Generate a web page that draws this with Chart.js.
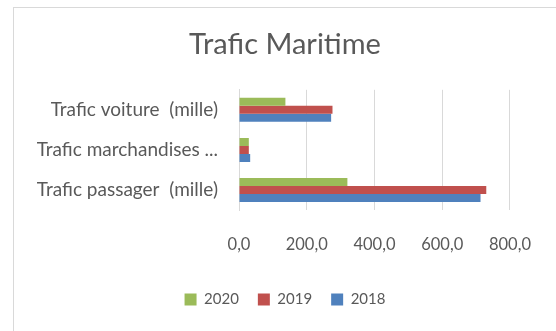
<!DOCTYPE html>
<html>
<head>
<meta charset="utf-8">
<script src="https://cdn.jsdelivr.net/npm/chart.js@4"></script>
<style>
  html, body { margin: 0; padding: 0; background: #fff; }
  body { width: 556px; height: 331px; overflow: hidden; position: relative; }
  #frame {
    position: absolute; left: 13px; top: 7px; width: 543px; height: 324px;
    border-left: 1px solid #d9d9d9; border-top: 1px solid #d9d9d9;
    box-sizing: border-box;
  }
  #chart { position: absolute; left: 0; top: 0; }
</style>
</head>
<body>
<div id="frame"><canvas id="chart" width="542" height="323"></canvas></div>
<script>
const categories = ['Trafic voiture  (mille)', 'Trafic marchandises ...', 'Trafic passager  (mille)'];
const seriesNames = ['2020', '2019', '2018'];
const values2020 = [137, 29, 320];
const values2019 = [276, 29, 730];
const values2018 = [272, 33, 713];
const xTicks = [0, 200, 400, 600, 800];

const colors = ['#9bbb59', '#c0504d', '#4f81bd'];
const textColor = '#595959';
const font = 'Lato, "Open Sans", sans-serif';

const ctx = document.getElementById('chart').getContext('2d');
new Chart(ctx, {
  type: 'bar',
  data: {
    labels: categories,
    datasets: [values2020, values2019, values2018].map((d, i) => ({
      label: seriesNames[i],
      data: d,
      backgroundColor: colors[i],
      categoryPercentage: 0.6,
      barPercentage: 1.0
    }))
  },
  options: {
    indexAxis: 'y',
    responsive: false,
    animation: false,
    layout: { padding: { left: 22, right: 22, top: 0, bottom: 14 } },
    plugins: {
      title: {
        display: true,
        text: 'Trafic Maritime',
        color: textColor,
        font: { family: font, size: 29, weight: 'normal' },
        padding: { top: 19, bottom: 28 }
      },
      legend: {
        position: 'bottom',
        labels: {
          color: textColor,
          font: { family: font, size: 15 },
          boxWidth: 12,
          boxHeight: 12,
          padding: 19
        }
      },
      tooltip: { enabled: false }
    },
    scales: {
      x: {
        min: xTicks[0],
        max: xTicks[xTicks.length - 1],
        afterBuildTicks: axis => { axis.ticks = xTicks.map(v => ({ value: v })); },
        grid: { color: '#d9d9d9', drawTicks: false },
        border: { display: false },
        afterFit: scale => { scale.height = 63; },
        ticks: {
          color: textColor,
          font: { family: font, size: 16.5 },
          padding: 25,
          callback: v => v.toFixed(1).replace('.', ',')
        }
      },
      y: {
        grid: { display: false, drawTicks: false },
        border: { display: true, color: '#d9d9d9' },
        afterFit: scale => { scale.width = 203; },
        ticks: {
          color: textColor,
          font: { family: font, size: 19 },
          padding: 21
        }
      },
      yRight: {
        type: 'category',
        position: 'right',
        grid: { display: false },
        border: { display: false },
        ticks: { display: false },
        afterFit: scale => { scale.width = 23; }
      }
    }
  }
});
</script>
</body>
</html>
